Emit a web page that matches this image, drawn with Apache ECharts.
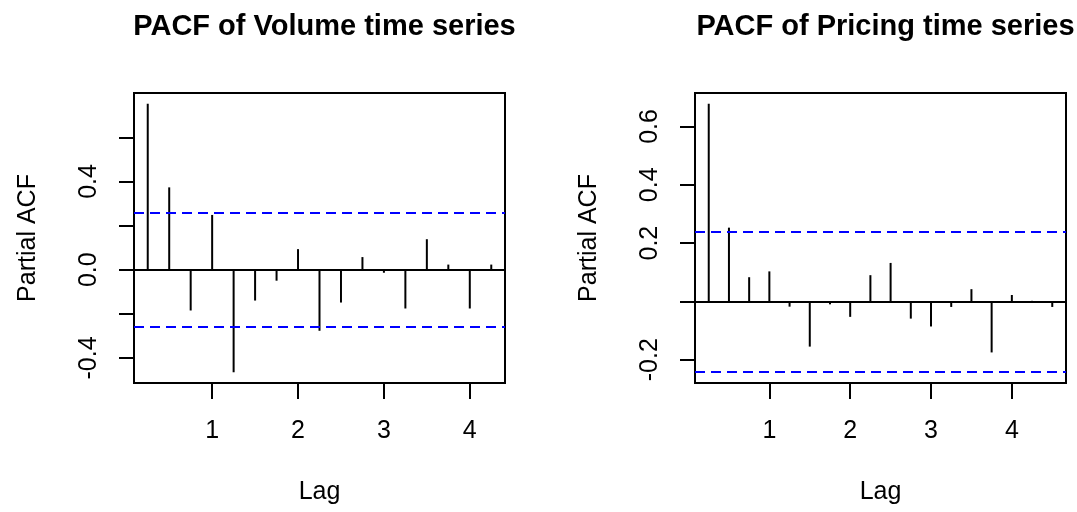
<!DOCTYPE html>
<html>
<head>
<meta charset="utf-8">
<script src="https://cdn.jsdelivr.net/npm/echarts@6/dist/echarts.min.js"></script>
<style>
html,body{margin:0;padding:0;background:#fff;}
#chart{width:1077px;height:512px;}
</style>
</head>
<body>
<div id="chart"></div>
<script>
// ---- data ----
const volumeLags = [0.25,0.5,0.75,1,1.25,1.5,1.75,2,2.25,2.5,2.75,3,3.25,3.5,3.75,4,4.25];
const volumePacf = [0.752,0.373,-0.185,0.248,-0.465,-0.140,-0.050,0.093,-0.277,-0.149,0.057,-0.014,-0.176,0.138,0.023,-0.176,0.023];
const volumeCi = 0.257;

const pricingLags = [0.25,0.5,0.75,1,1.25,1.5,1.75,2,2.25,2.5,2.75,3,3.25,3.5,3.75,4,4.25,4.5];
const pricingPacf = [0.678,0.253,0.083,0.103,-0.018,-0.155,-0.010,-0.053,0.090,0.132,-0.059,-0.086,-0.019,0.042,-0.175,0.022,0.002,-0.019];
const pricingCi = 0.243;

const titles = ['PACF of Volume time series', 'PACF of Pricing time series'];
const xTicks = [1,2,3,4];
const volumeYTicks = [-0.4,-0.2,0,0.2,0.4,0.6];
const volumeYLabels = [-0.4,0,0.4];
const pricingYTicks = [-0.2,0,0.2,0.4,0.6];
const pricingYLabels = [-0.2,0.2,0.4,0.6];

// ---- helpers ----
const FONT = 'Liberation Sans, Arial, sans-serif';
function padRange(vals){
  const mn = Math.min(...vals), mx = Math.max(...vals);
  const p = (mx - mn) * 0.04;
  return [mn - p, mx + p];
}
const volX = padRange(volumeLags), priX = padRange(pricingLags);
const volY = padRange(volumePacf.concat([volumeCi, -volumeCi]));
const priY = padRange(pricingPacf.concat([pricingCi, -pricingCi]));

function fmt(v){ return Math.abs(v) < 1e-9 ? '0.0' : v.toFixed(1); }

function xAxis(idx, range){
  return {
    type:'value', gridIndex:idx, min:range[0], max:range[1], position:'bottom',
    name:'Lag', nameLocation:'middle', nameGap:97,
    nameTextStyle:{fontFamily:FONT, fontSize:25, color:'#000'},
    axisLine:{show:true, onZero:false, lineStyle:{color:'#000', width:2}}, splitLine:{show:false},
    axisTick:{show:true, inside:false, length:16, customValues:xTicks, lineStyle:{color:'#000', width:2}},
    axisLabel:{show:true, inside:false, margin:36, customValues:xTicks, fontFamily:FONT, fontSize:25, color:'#000', formatter:v=>String(Math.round(v))}
  };
}
function yAxis(idx, range, ticks, labels){
  return {
    type:'value', gridIndex:idx, min:range[0], max:range[1], position:'left',
    name:'Partial ACF', nameLocation:'middle', nameGap:93, nameRotate:90,
    nameTextStyle:{fontFamily:FONT, fontSize:25, color:'#000'},
    axisLine:{show:true, onZero:false, lineStyle:{color:'#000', width:2}}, splitLine:{show:false},
    axisTick:{show:true, inside:false, length:15, customValues:ticks, lineStyle:{color:'#000', width:2}},
    axisLabel:{show:true, inside:false, rotate:90, margin:32, customValues:labels, fontFamily:FONT, fontSize:25, color:'#000', formatter:fmt}
  };
}
function stems(idx, lags, vals, ci){
  return {
    type:'bar', xAxisIndex:idx, yAxisIndex:idx,
    data: lags.map((l,i)=>[l, vals[i]]),
    barWidth:2, itemStyle:{color:'#000'}, silent:true, animation:false,
    markLine:{
      silent:true, symbol:['none','none'], animation:false,
      label:{show:false},
      data:[
        {yAxis:0, lineStyle:{color:'#000', width:2, type:'solid'}},
        {yAxis:ci, lineStyle:{color:'#0000ff', width:2, type:[10,6]}},
        {yAxis:-ci, lineStyle:{color:'#0000ff', width:2, type:[10,6]}}
      ]
    }
  };
}

const chart = echarts.init(document.getElementById('chart'), null, {renderer:'canvas'});
chart.setOption({
  backgroundColor:'#fff',
  animation:false,
  title:[
    {text:titles[0], left:319.5, top:7, textAlign:'center', textStyle:{fontFamily:FONT, fontSize:29, fontWeight:'bold', color:'#000'}},
    {text:titles[1], left:880.5, top:7, textAlign:'center', textStyle:{fontFamily:FONT, fontSize:29, fontWeight:'bold', color:'#000'}}
  ],
  grid:[
    {left:134, right:572, top:93, bottom:129, show:true, borderColor:'#000', borderWidth:2, backgroundColor:'transparent'},
    {left:695, right:11, top:93, bottom:129, show:true, borderColor:'#000', borderWidth:2, backgroundColor:'transparent'}
  ],
  xAxis:[xAxis(0, volX), xAxis(1, priX)],
  yAxis:[yAxis(0, volY, volumeYTicks, volumeYLabels), yAxis(1, priY, pricingYTicks, pricingYLabels)],
  series:[stems(0, volumeLags, volumePacf, volumeCi), stems(1, pricingLags, pricingPacf, pricingCi)]
});
</script>
</body>
</html>
